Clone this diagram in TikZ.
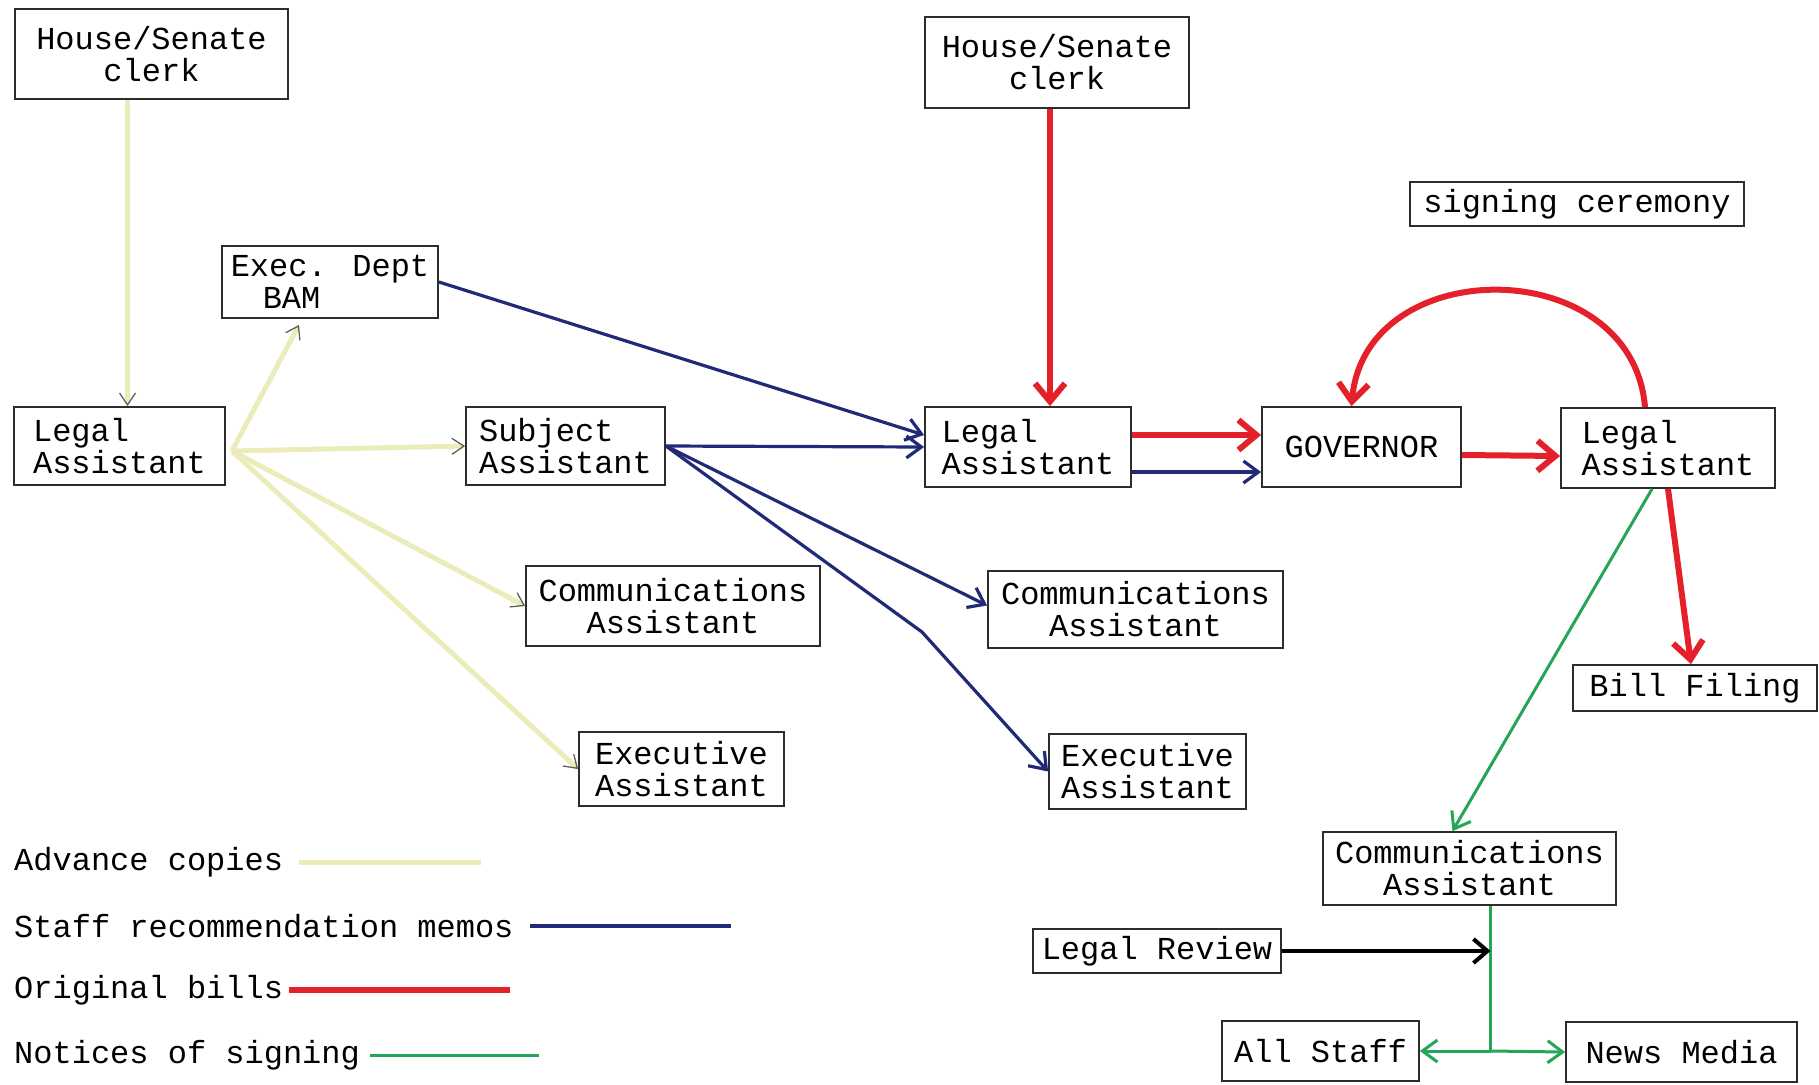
\documentclass[tikz,border=0pt]{standalone}
\usepackage{fontspec}
\usepackage{xcolor}
\usepackage{tikz}
\usetikzlibrary{arrows.meta, positioning, calc}
\newfontfamily\typewriter{Liberation Mono}
\definecolor{advancecolor}{RGB}{236,236,186}
\definecolor{tipgray}{RGB}{95,95,85}
\definecolor{memocolor}{RGB}{32,42,118}
\definecolor{billcolor}{RGB}{228,32,42}
\definecolor{noticecolor}{RGB}{36,166,88}
\definecolor{boxgray}{RGB}{45,45,45}

\begin{document}
\begin{tikzpicture}[
    x=1pt, y=-1pt,
    box/.style={draw=boxgray, line width=1.8pt, inner sep=0pt, font=\typewriter\fontsize{32}{32}\selectfont, align=center},
    legendtext/.style={inner sep=6pt, anchor=west, font=\typewriter\fontsize{32}{32}\selectfont},
    advanceline/.style={advancecolor, line width=5pt, -{Straight Barb[color=tipgray, line width=1.3pt, length=12pt, width=16pt]}},
    memoline/.style={memocolor, line width=3.2pt, -{Straight Barb[length=15pt, width=22pt]}},
    billline/.style={billcolor, line width=6pt, -{Straight Barb[length=18pt, width=30pt]}},
    noticeline/.style={noticecolor, line width=3pt, -{Straight Barb[length=15pt, width=22pt]}},
    reviewline/.style={black, line width=4pt, -{Straight Barb[length=14pt, width=24pt]}}
]
    \useasboundingbox (0,0) rectangle (1819,1084);

    % Incoming bills
    \node[box, minimum width=273, minimum height=90] (hsA) at (151.5,54) {House/Senate\\clerk};
    \node[box, minimum width=264, minimum height=91] (hsB) at (1057,62.5) {House/Senate\\clerk};
    \node[box, minimum width=334, minimum height=44] (ceremony) at (1577,204) {signing ceremony};

    % Advance copies stage
    \node[box, align=left, minimum width=216, minimum height=72] (bam) at (330,282) {Exec. Dept\\\hspace{1em}BAM};
    \node[box, align=left, minimum width=211, minimum height=78] (legalA) at (119.5,446) {Legal\\Assistant};
    \node[box, align=left, minimum width=199, minimum height=78] (subject) at (565.5,446) {Subject\\Assistant};
    \node[box, minimum width=294, minimum height=80] (commA) at (673,606) {Communications\\Assistant};
    \node[box, minimum width=205, minimum height=74] (execA) at (681.5,769) {Executive\\Assistant};

    % Recommendation stage
    \node[box, align=left, minimum width=206, minimum height=80] (legalB) at (1028,447) {Legal\\Assistant};
    \node[box, minimum width=295, minimum height=77] (commB) at (1135.5,609.5) {Communications\\Assistant};
    \node[box, minimum width=197, minimum height=75] (execB) at (1147.5,771.5) {Executive\\Assistant};

    % Signing stage
    \node[box, minimum width=199, minimum height=80] (governor) at (1361.5,447) {GOVERNOR};
    \node[box, align=left, minimum width=214, minimum height=80] (legalC) at (1668,448) {Legal\\Assistant};
    \node[box, minimum width=244, minimum height=46] (filing) at (1695,688) {Bill Filing};
    \node[box, minimum width=293, minimum height=73] (commC) at (1469.5,868.5) {Communications\\Assistant};
    \node[box, minimum width=248, minimum height=44] (review) at (1157,951) {Legal Review};
    \node[box, minimum width=197, minimum height=60] (allstaff) at (1320.5,1051) {All Staff};
    \node[box, minimum width=231, minimum height=60] (media) at (1681.5,1052) {News Media};

    % Helper points
    \coordinate (fan) at ([shift={(6,5)}]legalA.east);
    \coordinate (memobend) at (922,632);
    \coordinate (split) at ([xshift=21pt]commC.south |- allstaff.east);

    % Advance copies
    \draw[advanceline] ([xshift=8pt]legalA.north |- hsA.south) -- ([xshift=8pt]legalA.north);
    \draw[advanceline] (fan) -- ([shift={(-31,6)}]bam.south);
    \draw[advanceline] (fan) -- (subject.west);
    \draw[advanceline] (fan) -- (commA.west);
    \draw[advanceline] (fan) -- (execA.west);

    % Staff recommendation memos
    \draw[memoline] (bam.east) -- ([yshift=12pt]legalB.west);
    \draw[memoline] (subject.east) -- (legalB.west);
    \draw[memoline] (subject.east) -- ([yshift=4pt]commB.west);
    \draw[memoline] (subject.east) -- (memobend) -- (execB.west);
    \draw[memoline] ([yshift=-25pt]legalB.east) -- ([yshift=-25pt]governor.west);

    % Original bills
    \draw[billline] ([xshift=-7pt]hsB.south) -- ([xshift=-7pt]hsB.south |- legalB.north);
    \draw[billline] ([yshift=12pt]legalB.east) -- ([yshift=12pt]governor.west);
    \draw[billline] ([yshift=-8pt]governor.east) -- ([yshift=-8pt]legalC.west);
    \draw[billline] ([xshift=-23pt]legalC.north) .. controls (1632,252) and (1365,252) .. ([xshift=-10pt]governor.north);
    \draw[billline] (legalC.south) -- ([xshift=-4pt]filing.north);

    % Notices of signing
    \draw[noticeline] ([xshift=-16pt]legalC.south) -- ([xshift=-17pt]commC.north);
    \draw[noticecolor, line width=3pt] ([xshift=21pt]commC.south) -- (split);
    \draw[noticeline] (split) -- (allstaff.east);
    \draw[noticeline] (split) -- (media.west);
    \draw[reviewline] (review.east) -- (review.east -| split);

    % Legend
    \node[legendtext] (legadvance) at (8,862) {Advance copies};
    \node[legendtext] (legmemos) at (8,926) {Staff recommendation memos};
    \node[legendtext] (legbills) at (8,990) {Original bills};
    \node[legendtext] (legnotices) at (8,1055) {Notices of signing};
    \coordinate (advanceend) at (481,865);
    \coordinate (memosend) at (731,929);
    \coordinate (billsend) at (510,994);
    \coordinate (noticesend) at (539,1058);
    \draw[advanceline, -] ([xshift=10pt]legadvance.east) -- (legadvance.east -| advanceend);
    \draw[memoline, -] ([xshift=10pt]legmemos.east) -- (legmemos.east -| memosend);
    \draw[billline, -] (legbills.east) -- (legbills.east -| billsend);
    \draw[noticeline, -] ([xshift=4pt]legnotices.east) -- (legnotices.east -| noticesend);
\end{tikzpicture}
\end{document}
